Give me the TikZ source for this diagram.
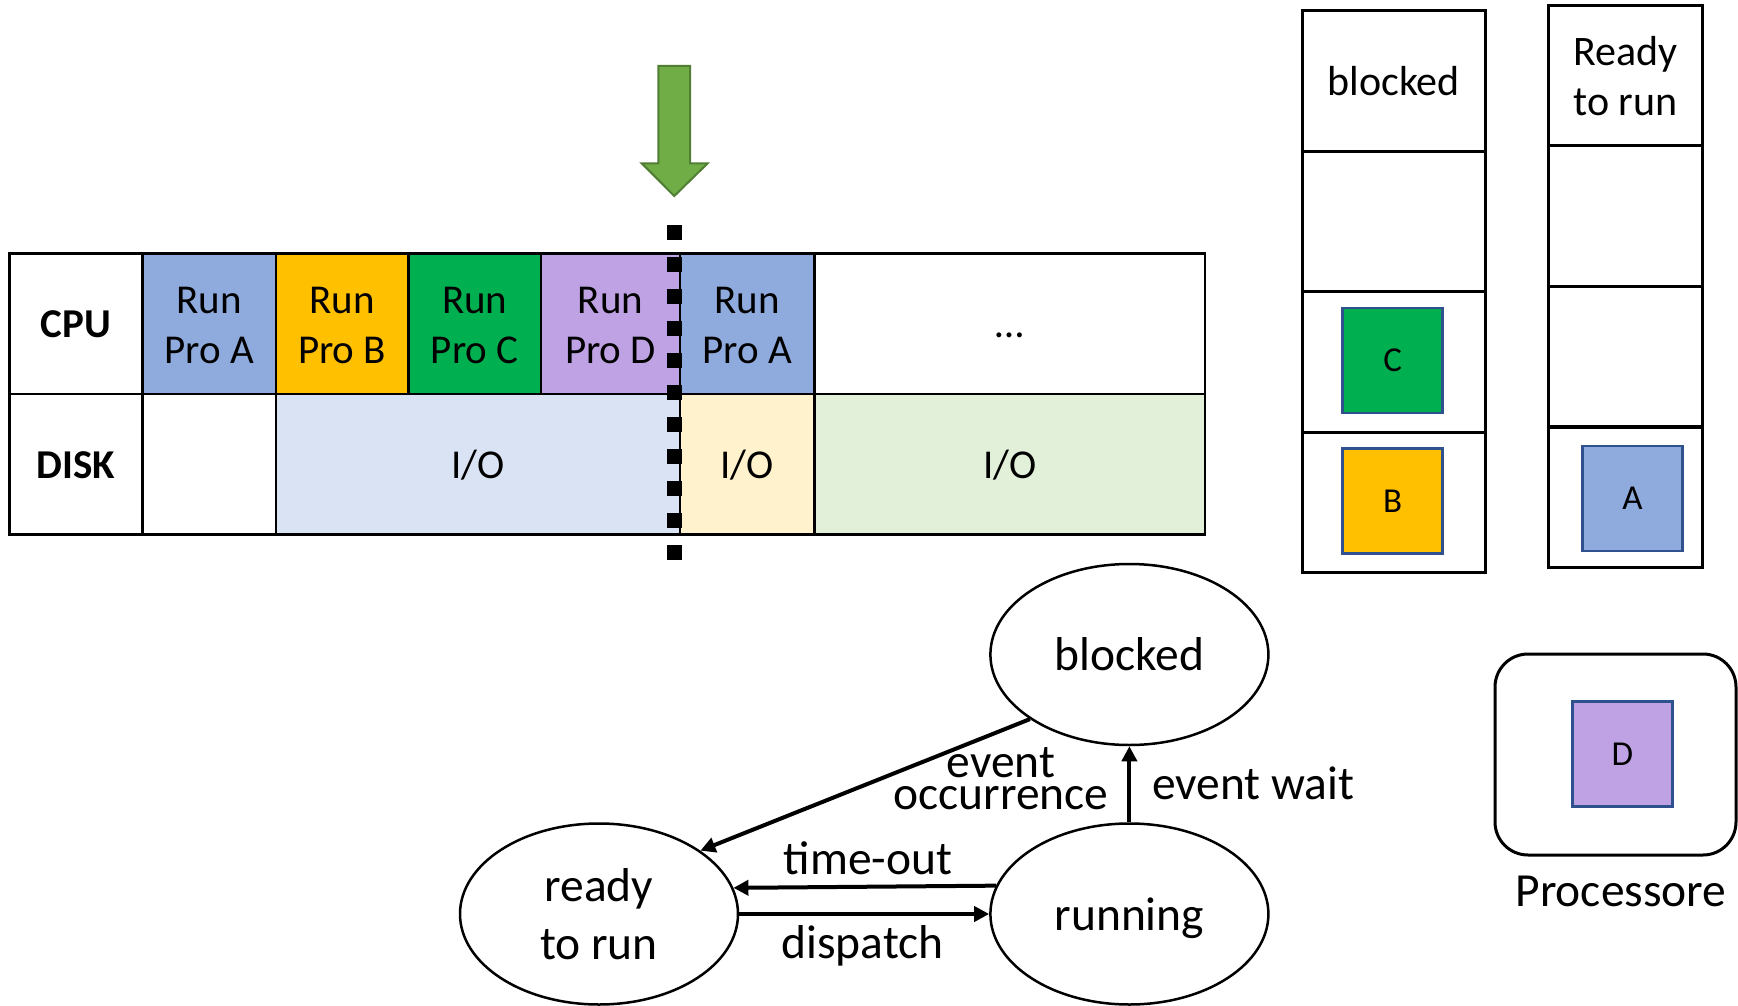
\documentclass[tikz,border=0pt]{standalone}
\usepackage{fontspec}
\setmainfont{Carlito}
\usetikzlibrary{arrows.meta,shapes.geometric}
\definecolor{cA}{HTML}{8FAADC}
\definecolor{cB}{HTML}{FFC000}
\definecolor{cC}{HTML}{00B050}
\definecolor{cD}{HTML}{BFA2E3}
\definecolor{ioBlue}{HTML}{DAE3F3}
\definecolor{ioYel}{HTML}{FFF2CC}
\definecolor{ioGrn}{HTML}{E2F0D9}
\definecolor{sqBorder}{HTML}{2F528F}
\definecolor{arrFill}{HTML}{70AD47}
\definecolor{arrLine}{HTML}{507E32}
\newcommand\tallstrut[1]{\rule{0pt}{#1}}
\begin{document}
\begin{tikzpicture}[x=1pt,y=-1pt,
  cell/.style={draw=black, line width=2.5pt, rectangle, inner sep=0pt, align=center,
    font=\fontsize{41}{50}\selectfont},
  row1/.style={minimum height=140.5pt},
  row2/.style={minimum height=140.3pt},
  oneline/.style={text height=28pt, text depth=0pt},
  qcell/.style={draw=black, line width=3pt, rectangle, inner sep=0pt, align=center,
    minimum height=140.6pt, font=\fontsize{42}{50}\selectfont},
  sq/.style={draw=sqBorder, line width=2.5pt, rectangle, inner sep=0pt,
    minimum width=100pt, minimum height=105pt, font=\fontsize{35}{42}\selectfont},
  state/.style={ellipse, draw=black, line width=2.5pt, minimum width=278pt,
    minimum height=181pt, inner sep=0pt, align=center, font=\fontsize{47.5}{57.6}\selectfont},
  lbl/.style={inner sep=0pt, font=\fontsize{47.5}{56}\selectfont},
  arr/.style={line width=4pt, -{Triangle[length=15pt,width=15pt]}}
]
\useasboundingbox (0,0) rectangle (1738,1006);

% ---------- timeline table ----------
\node[cell,row1,oneline,minimum width=133.2pt] (cpu) at (76,323.75) {\bfseries CPU};
\node[cell,row1,fill=cA,minimum width=133.2pt] (a1) at (209.2,323.75) {\tallstrut{29pt}Run\\Pro A};
\node[cell,row1,fill=cB,minimum width=132.6pt] (b1) at (342.1,323.75) {\tallstrut{29pt}Run\\Pro B};
\node[cell,row1,fill=cC,minimum width=132.6pt] (c1) at (474.7,323.75) {\tallstrut{29pt}Run\\Pro C};
\node[cell,row1,fill=cD,minimum width=139pt] (d1) at (610.5,323.75) {\tallstrut{29pt}Run\\Pro D};
\node[cell,row1,fill=cA,minimum width=134.6pt] (a2) at (747.3,323.75) {\tallstrut{29pt}Run\\Pro A};
\node[cell,row1,oneline,minimum width=390.4pt] (more) at (1009.8,323.75) {…};

\node[cell,row2,oneline,minimum width=133.2pt] (disk) at (76,464.15) {\bfseries DISK};
\node[cell,row2,minimum width=133.2pt] (empty) at (209.2,464.15) {};
\node[cell,row2,oneline,fill=ioBlue,minimum width=404.2pt] (io1) at (477.9,464.15) {I/O};
\node[cell,row2,oneline,fill=ioYel,minimum width=134.6pt] (io2) at (747.3,464.15) {I/O};
\node[cell,row2,oneline,fill=ioGrn,minimum width=390.4pt] (io3) at (1009.8,464.15) {I/O};

% cut line
\coordinate (cutT) at (674,225);
\coordinate (cutB) at (674,560);
\draw[line width=15pt, dash pattern=on 15pt off 17pt] (cutT) -- (cutB);

% green arrow
\fill[arrFill, draw=arrLine, line width=2pt, line join=miter]
  (658.3,66) -- (690,66) -- (690,163.3) -- (707.7,163.3) -- (674.3,196)
  -- (641.7,163.3) -- (658.3,163.3) -- cycle;

% ---------- blocked queue ----------
\node[qcell,text height=29pt,text depth=0pt,minimum width=183.3pt] (qb0) at (1393.65,81.1) {blocked};
\node[qcell,minimum width=183.3pt] (qb1) at (1393.65,221.5) {};
\node[qcell,minimum width=183.3pt] (qb2) at (1393.65,361.9) {};
\node[qcell,minimum width=183.3pt] (qb3) at (1393.65,502.65) {};
\node[sq,fill=cC] (pC) at (1392.7,360.5) {C};
\node[sq,fill=cB] (pB) at (1392.7,500.8) {B};

% ---------- ready queue ----------
\node[qcell,minimum width=154.4pt] (qr0) at (1625.5,75.7) {\tallstrut{28.6pt}Ready\\to run};
\node[qcell,minimum width=154.4pt] (qr1) at (1625.5,216) {};
\node[qcell,minimum width=154.4pt] (qr2) at (1625.5,356.5) {};
\node[qcell,minimum width=154.4pt] (qr3) at (1625.5,497.5) {};
\node[sq,fill=cA] (pA) at (1632.5,498.4) {A};

% ---------- processor ----------
\node[draw=black, line width=3pt, rounded corners=33pt, rectangle, inner sep=0pt,
  minimum width=241pt, minimum height=201pt] (proc) at (1615.5,754.5) {};
\node[sq,fill=cD] (pD) at (1622.3,753.8) {D};
\node[inner sep=0pt, anchor=base, font=\fontsize{47.5}{58}\selectfont] (proclbl) at (1621,906.7) {Processore};

% ---------- state diagram ----------
\node[state] (blk) at (1129.4,654.5) {blocked};
\node[state] (rd) at (599,914) {ready\\to run};
\node[state,text depth=0pt] (run) at (1129.4,914) {running};

\draw[arr] (blk.213.6) -- (rd.32.3);
\draw[arr] (run.north) -- (blk.south);
\draw[arr] (run.168.95) -- (rd.11.05);
\draw[arr] (rd.east) -- (run.west);

\node[lbl, align=center, font=\fontsize{47.5}{32}\selectfont] (lOcc) at (1001,779) {event\\occurrence};
\node[lbl, anchor=base west] (lWait) at (1152,799.3) {event wait};
\node[lbl, anchor=base] (lTime) at (868,874.3) {time-out};
\node[lbl, anchor=base] (lDisp) at (862.5,958.3) {dispatch};
\end{tikzpicture}
\end{document}
